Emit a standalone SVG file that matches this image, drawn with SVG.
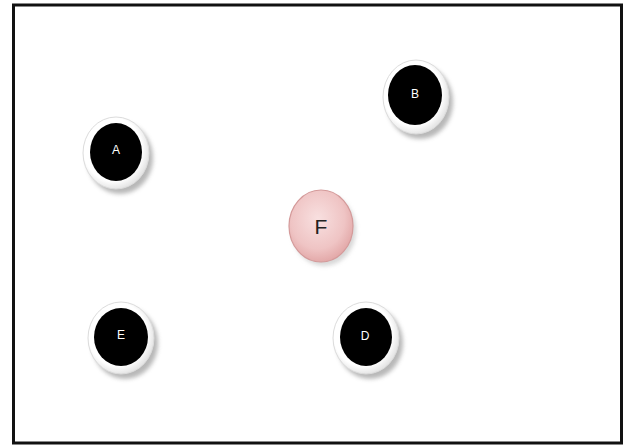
<svg xmlns="http://www.w3.org/2000/svg" width="623" height="445" viewBox="0 0 623 445">
<defs>
<filter id="sh" x="-30%" y="-30%" width="160%" height="160%"><feGaussianBlur stdDeviation="2"/></filter>
<radialGradient id="pink" cx="45%" cy="40%" r="60%"><stop offset="0" stop-color="#f8e0e0"/><stop offset="0.7" stop-color="#efc4c4"/><stop offset="1" stop-color="#e3a9a9"/></radialGradient>
<radialGradient id="ring" cx="45%" cy="45%" r="55%"><stop offset="0.8" stop-color="#ffffff"/><stop offset="1" stop-color="#e6e6e6"/></radialGradient>
</defs>
<style>
.shadow{fill:#9a9a9a;filter:url(#sh);opacity:0.7}
.ring{fill:url(#ring);stroke:#dcdcdc;stroke-width:1}
.core{fill:#000}
.lbl{font-family:"Liberation Sans",Arial,sans-serif;font-size:12px;fill:#ffffff;text-anchor:middle;dominant-baseline:central}
.flbl{font-family:"Liberation Sans",Arial,sans-serif;font-size:21px;fill:#222;text-anchor:middle;dominant-baseline:central}
</style>
<rect x="0" y="0" width="623" height="445" fill="#ffffff"/>
<rect x="13.5" y="5" width="608" height="438" fill="none" stroke="#111" stroke-width="3"/>
<g id="connectors"></g>
<g id="node-A">
<ellipse class="shadow" cx="120" cy="158" rx="33" ry="36"/>
<ellipse class="ring" cx="116" cy="153" rx="33" ry="36"/>
<ellipse class="core" cx="116" cy="152" rx="26" ry="29"/>
<text class="lbl" x="116" y="150">A</text>
</g>
<g id="node-B">
<ellipse class="shadow" cx="420" cy="102" rx="33" ry="37"/>
<ellipse class="ring" cx="416" cy="97" rx="33" ry="37"/>
<ellipse class="core" cx="415" cy="95" rx="27" ry="30"/>
<text class="lbl" x="415" y="94">B</text>
</g>
<g id="node-F">
<ellipse cx="324" cy="230" rx="32" ry="36" fill="#b0b0b0" opacity="0.5" filter="url(#sh)"/>
<ellipse cx="321" cy="226" rx="32" ry="36" fill="url(#pink)" stroke="#d49a9a" stroke-width="1.2"/>
<text class="flbl" x="321" y="226">F</text>
</g>
<g id="node-E">
<ellipse class="shadow" cx="125" cy="343" rx="33" ry="36"/>
<ellipse class="ring" cx="121" cy="338" rx="33" ry="36"/>
<ellipse class="core" cx="121" cy="337" rx="27" ry="29"/>
<text class="lbl" x="121" y="335">E</text>
</g>
<g id="node-D">
<ellipse class="shadow" cx="370" cy="343" rx="33" ry="36"/>
<ellipse class="ring" cx="366" cy="338" rx="33" ry="36"/>
<ellipse class="core" cx="366" cy="337" rx="26" ry="29"/>
<text class="lbl" x="365" y="336">D</text>
</g>
</svg>
